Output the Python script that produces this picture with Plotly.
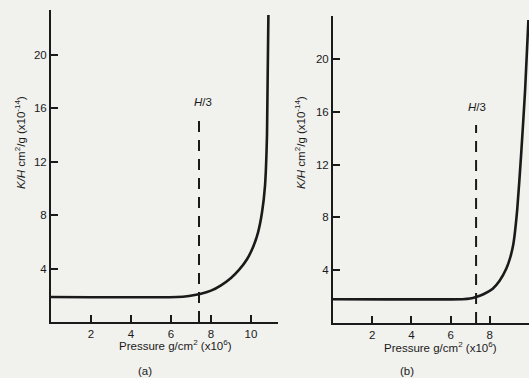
import plotly.graph_objects as go

# Panel (a) data
pressure_a = [0, 6.3, 6.9, 7.45, 8.0, 8.5, 9.0, 9.4, 9.8, 10.1, 10.35, 10.55, 10.7, 10.8, 10.87]
kh_a = [1.87, 1.87, 1.95, 2.1, 2.35, 2.75, 3.3, 3.9, 4.7, 5.6, 6.7, 8.2, 10.2, 14.0, 23.0]
h3_a = 7.4
h3_top_a = 15.4

# Panel (b) data
pressure_b = [0, 6.6, 7.0, 7.3, 7.7, 8.15, 8.5, 8.85, 9.05, 9.2, 9.4, 9.6, 9.8, 9.97]
kh_b = [1.8, 1.8, 1.85, 1.97, 2.2, 2.6, 3.2, 4.15, 5.0, 5.96, 8.6, 12.8, 17.6, 22.95]
h3_b = 7.3
h3_top_b = 15.0

y_ticks = [4, 8, 12, 16, 20]
x_ticks_a = [2, 4, 6, 8, 10]
x_ticks_b = [2, 4, 6, 8]

W, H = 529, 378
FONT = "Liberation Sans"
INK = "#1a1a1a"

def px(x):
    return x / W

def py(y):
    return 1 - y / H

fig = go.Figure()

curve_line = dict(color=INK, width=2.6, shape="spline", smoothing=0.5)
dash_line = dict(color=INK, width=2, dash="11px,8px")

fig.add_trace(go.Scatter(x=pressure_a, y=kh_a, mode="lines", line=curve_line,
                         xaxis="x", yaxis="y", showlegend=False, hoverinfo="skip"))
fig.add_trace(go.Scatter(x=[h3_a, h3_a], y=[0, h3_top_a], mode="lines", line=dash_line,
                         xaxis="x", yaxis="y", showlegend=False, hoverinfo="skip"))
fig.add_trace(go.Scatter(x=pressure_b, y=kh_b, mode="lines", line=curve_line,
                         xaxis="x2", yaxis="y2", showlegend=False, hoverinfo="skip", cliponaxis=False))
fig.add_trace(go.Scatter(x=[h3_b, h3_b], y=[0, h3_top_b], mode="lines", line=dash_line,
                         xaxis="x2", yaxis="y2", showlegend=False, hoverinfo="skip"))

axis_common = dict(showline=True, linecolor=INK, linewidth=2, ticks="inside", ticklen=7, tickwidth=1.6,
                   tickcolor=INK, showgrid=False, zeroline=False, tickfont=dict(family=FONT, size=11.5, color=INK))

fig.update_layout(
    width=W, height=H,
    margin=dict(l=0, r=0, t=0, b=0),
    paper_bgcolor="#f1f1ee", plot_bgcolor="rgba(0,0,0,0)",
    xaxis=dict(domain=[px(51), px(278)], range=[0, 11.35], tickvals=x_ticks_a, anchor="y", **axis_common),
    yaxis=dict(domain=[py(322), py(10)], range=[0, 23.37], tickvals=y_ticks, anchor="x", **axis_common),
    xaxis2=dict(domain=[px(333), 1.0], range=[0, 10.0], tickvals=x_ticks_b, anchor="y2", **axis_common),
    yaxis2=dict(domain=[py(323), py(16)], range=[0, 23.26], tickvals=y_ticks, anchor="x2", **axis_common),
)

ytitle = "<i>K/H</i> cm<sup>2</sup>/g (x10<sup>-14</sup>)"
xtitle = "Pressure g/cm<sup>2</sup> (x10<sup>6</sup>)"
ann = [
    dict(x=px(20), y=py(143), text=ytitle, textangle=-90),
    dict(x=px(300), y=py(143), text=ytitle, textangle=-90),
    dict(x=px(175), y=py(345), text=xtitle),
    dict(x=px(440), y=py(347), text=xtitle),
    dict(x=px(145), y=py(371), text="(a)"),
    dict(x=px(407), y=py(371), text="(b)"),
]
for a in ann:
    fig.add_annotation(xref="paper", yref="paper", showarrow=False, xanchor="center", yanchor="middle",
                       font=dict(family=FONT, size=11.5, color=INK), **a)

fig.add_annotation(x=7.6, y=15.9, xref="x", yref="y", text="<i>H</i>/3", showarrow=False,
                   font=dict(family=FONT, size=11.5, color=INK), yanchor="bottom")
fig.add_annotation(x=7.35, y=15.75, xref="x2", yref="y2", text="<i>H</i>/3", showarrow=False,
                   font=dict(family=FONT, size=11.5, color=INK), yanchor="bottom")

fig.write_html("out.html", config={"displayModeBar": False},
               post_script="document.body.style.margin='0';document.body.style.overflow='hidden';")
